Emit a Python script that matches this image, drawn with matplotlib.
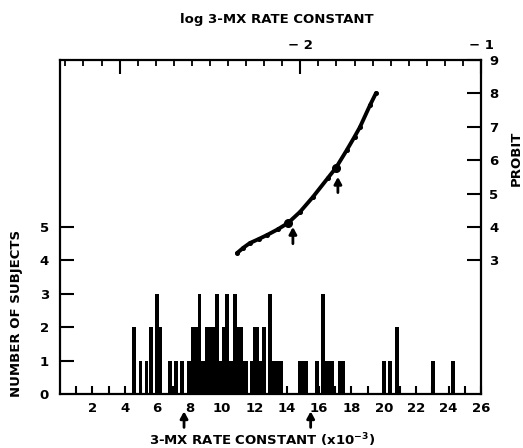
import matplotlib
matplotlib.use("Agg")
import matplotlib.pyplot as plt

plt.rcParams['font.family'] = ['DejaVu Sans']
plt.rcParams['font.weight'] = 'bold'
plt.rcParams['mathtext.fontset'] = 'custom'
plt.rcParams['mathtext.rm'] = 'DejaVu Sans:bold'
plt.rcParams['mathtext.bf'] = 'DejaVu Sans:bold'

# Histogram: rate constant (x10^-3) bin centres and number of subjects
rate_centers = [4.57, 4.98, 5.35, 5.60, 6.00, 6.20, 6.78, 7.16, 7.55,
                7.96, 8.19, 8.40, 8.62, 8.83, 9.05, 9.26, 9.47, 9.69, 9.90,
                10.11, 10.33, 10.57, 10.80, 11.02, 11.19, 11.36, 11.50,
                11.82, 12.02, 12.20, 12.40, 12.62, 12.97, 13.20, 13.42, 13.64,
                14.83, 15.03, 15.23, 15.85, 16.22, 16.43, 16.63, 16.83,
                17.30, 17.50, 20.02, 20.40, 20.83, 23.04, 24.25]
subject_counts = [2, 1, 1, 2, 3, 2, 1, 1, 1,
                  1, 2, 2, 3, 1, 2, 2, 2, 3, 1,
                  2, 3, 1, 3, 2, 2, 1, 1,
                  1, 2, 2, 1, 2, 3, 1, 1, 1,
                  1, 1, 1, 1, 3, 1, 1, 1,
                  1, 1, 1, 1, 2, 1, 1]

# Probit curve against log rate constant
log_rate = [-2.350, -2.315, -2.279, -2.230, -2.184, -2.125, -2.068, -2.002,
            -1.930, -1.847, -1.803, -1.742, -1.700, -1.670, -1.614, -1.581]
probit = [3.22, 3.38, 3.52, 3.64, 3.76, 3.93, 4.12, 4.45,
          4.90, 5.47, 5.77, 6.31, 6.70, 6.99, 7.65, 8.01]
marked_log = [-2.068, -1.803]
marked_probit = [4.12, 5.77]

# Arrows marking the two antimodes
bottom_arrow_x = [7.66, 15.48]
curve_arrow_x = [-2.041, -1.792]
curve_arrow_head = [4.00, 5.50]
curve_arrow_tail = [3.50, 5.03]

bottom_ticks = list(range(1, 27))
bottom_labels = [str(t) if t % 2 == 0 else '' for t in bottom_ticks]
left_ticks = [1, 2, 3, 4, 5]
right_ticks = [3, 4, 5, 6, 7, 8, 9]
top_major = [-3, -2, -1]
top_major_labels = ['', '\u2212 2', '\u2212 1']
top_minor = [round(-3.3 + 0.1 * i, 1) for i in range(23)]

W, H = 523, 448
FS = 9.5
fig = plt.figure(figsize=(W / 100, H / 100), dpi=100)
pos = [60 / W, 1 - 394 / H, (481 - 60) / W, (394 - 60) / H]

ax = fig.add_axes(pos)
ax.bar(rate_centers, subject_counts, width=0.23, color='black', linewidth=0)
ax.set_xlim(0, 26)
ax.set_ylim(0, 10)
for s in ax.spines.values():
    s.set_linewidth(1.6)
ax.set_xticks(bottom_ticks)
ax.set_xticklabels(bottom_labels)
ax.set_yticks(left_ticks)
ax.tick_params(axis='x', direction='in', length=6, width=1.5, pad=6,
               labelsize=FS)
ax.tick_params(axis='y', direction='in', length=10, width=1.5, pad=8,
               labelsize=FS)
ax.set_yticks([0], minor=True)
ax.set_yticklabels(['0'], minor=True)
ax.tick_params(axis='y', which='minor', length=0, pad=8, labelsize=FS)

# Overlay axes for the probit curve (top and right scales)
axp = fig.add_axes(pos, frameon=False)
axp.set_xlim(-3.33, -1.0)
axp.set_ylim(-1, 9)
axp.xaxis.tick_top()
axp.yaxis.tick_right()
axp.set_xticks(top_major)
axp.set_xticklabels(top_major_labels)
axp.set_xticks(top_minor, minor=True)
axp.set_yticks(right_ticks)
axp.tick_params(axis='x', which='major', direction='in', length=10,
                width=1.5, pad=6, labelsize=FS)
axp.tick_params(axis='x', which='minor', direction='in', length=4, width=1.3)
axp.tick_params(axis='y', direction='in', length=10, width=1.5, pad=6,
                labelsize=FS)

axp.plot(log_rate, probit, color='black', lw=2.8, solid_capstyle='round',
         solid_joinstyle='round', marker='o', ms=2.6)
axp.plot(marked_log, marked_probit, 'o', color='black', ms=5.5)
arrow_style = dict(arrowstyle='-|>,head_width=0.22,head_length=0.4',
                   color='black', lw=2.0, shrinkA=0, shrinkB=0)
for x, h, t in zip(curve_arrow_x, curve_arrow_head, curve_arrow_tail):
    axp.annotate('', xy=(x, h), xytext=(x, t), arrowprops=arrow_style)

tr = ax.get_xaxis_transform()
for x in bottom_arrow_x:
    ax.annotate('', xy=(x, -0.052), xytext=(x, -0.1), xycoords=tr,
                textcoords=tr, annotation_clip=False, arrowprops=arrow_style)

fig.text(277 / W, 1 - 20 / H, 'log 3-MX RATE CONSTANT', ha='center',
         va='center', fontsize=FS, fontweight='bold')
fig.text(262 / W, 1 - 440 / H, r'3-MX RATE CONSTANT (x10$^{-3}$)',
         ha='center', va='center', fontsize=FS, fontweight='bold')
fig.text(17 / W, 1 - 313 / H, 'NUMBER OF SUBJECTS', ha='center',
         va='center', rotation=90, fontsize=FS, fontweight='bold')
fig.text(516 / W, 1 - 158 / H, 'PROBIT', ha='center', va='center',
         rotation=90, fontsize=FS, fontweight='bold')

fig.savefig('out.png', dpi=100)
